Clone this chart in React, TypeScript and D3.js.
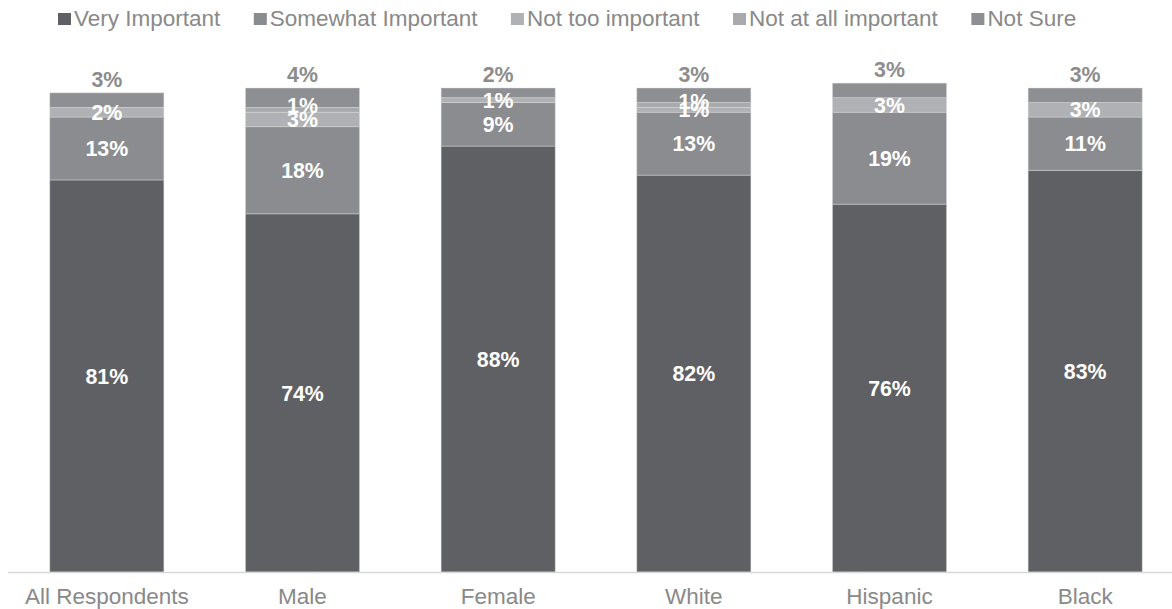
import React, { useEffect, useRef } from "react";
import * as d3 from "d3";

const categories = ["All Respondents", "Male", "Female", "White", "Hispanic", "Black"];
const seriesNames = ["Very Important", "Somewhat Important", "Not too important", "Not at all important", "Not Sure"];
const veryImportant = [81, 74, 88, 82, 76, 83];
const somewhatImportant = [13, 18, 9, 13, 19, 11];
const notTooImportant = [2, 3, 1, 1, 3, 3];
const notAtAllImportant = [0, 1, 0, 1, 0, 0];
const notSure = [3, 4, 2, 3, 3, 3];

const seriesColors = ["#5f6064", "#8b8c90", "#b0b1b4", "#a9aaad", "#8e8f93"];
const FONT = "'Liberation Sans', Arial, Helvetica, sans-serif";
const W = 1172;
const H = 609;

export default function App() {
  const ref = useRef<SVGSVGElement | null>(null);

  useEffect(() => {
    const svg = d3.select(ref.current);
    svg.selectAll("*").remove();

    const values = [veryImportant, somewhatImportant, notTooImportant, notAtAllImportant, notSure];
    const rows = categories.map((c, i) => {
      const r: any = { cat: c };
      seriesNames.forEach((s, k) => (r[s] = values[k][i]));
      return r;
    });
    const stacked = d3.stack().keys(seriesNames)(rows);

    const x = d3.scaleBand().domain(categories).range([9, 1183]).paddingInner(0.417).paddingOuter(0.2085);
    const y = d3.scaleLinear().domain([0, 100]).range([572, 88]);

    // bars
    const g = svg.append("g");
    stacked.forEach((layer, k) => {
      g.append("g")
        .selectAll("rect")
        .data(layer)
        .join("rect")
        .attr("x", (d: any) => x(d.data.cat)!)
        .attr("width", x.bandwidth())
        .attr("y", (d: any) => y(d[1]))
        .attr("height", (d: any) => Math.max(0, y(d[0]) - y(d[1])))
        .attr("fill", seriesColors[k])
        .attr("stroke", "#d9d9d9")
        .attr("stroke-opacity", 0.6)
        .attr("stroke-width", 0.75);
    });

    // labels
    stacked.forEach((layer, k) => {
      const isTop = k === seriesNames.length - 1;
      const isThin = k === 3;
      g.append("g")
        .selectAll("text")
        .data(layer.filter((d: any) => d[1] - d[0] > 0))
        .join("text")
        .attr("x", (d: any) => x(d.data.cat)! + x.bandwidth() / 2)
        .attr("y", (d: any) =>
          isTop ? y(d[1]) - 14 : (y(d[0]) + y(d[1])) / 2 - (isThin ? 4 : 0)
        )
        .attr("dy", "0.36em")
        .attr("text-anchor", "middle")
        .attr("font-family", FONT)
        .attr("font-weight", "bold")
        .attr("font-size", 21.33)
        .attr("fill", isTop ? "#8c8c8c" : "#ffffff")
        .text((d: any) => `${d[1] - d[0]}%`);
    });

    // axis line
    svg.append("line")
      .attr("x1", 8).attr("x2", W)
      .attr("y1", y(0) + 0.5).attr("y2", y(0) + 0.5)
      .attr("stroke", "#d9d9d9").attr("stroke-width", 1.5);

    // category labels
    const xAxis = svg.append("g").attr("transform", `translate(0,${y(0)})`)
      .call(d3.axisBottom(x).tickSize(0).tickPadding(0));
    xAxis.select(".domain").remove();
    xAxis.selectAll("text")
      .attr("y", 32)
      .attr("dy", 0)
      .attr("font-family", FONT)
      .attr("font-size", 22.5)
      .attr("fill", "#898989");

    // legend
    const legend = svg.append("g");
    let lx = 58;
    seriesNames.forEach((s, k) => {
      legend.append("rect")
        .attr("x", lx).attr("y", 13).attr("width", 13).attr("height", 12)
        .attr("fill", seriesColors[k]);
      const t = legend.append("text")
        .attr("x", lx + 16).attr("y", 26)
        .attr("font-family", FONT)
        .attr("font-size", 22.5)
        .attr("fill", "#898989")
        .text(s);
      const w = (t.node() as SVGTextElement).getComputedTextLength();
      lx = lx + 16 + w + 33.5;
    });
  }, []);

  return (
    <svg
      ref={ref}
      width={W}
      height={H}
      style={{ position: "absolute", left: 0, top: 0, background: "#fff", display: "block" }}
    />
  );
}
